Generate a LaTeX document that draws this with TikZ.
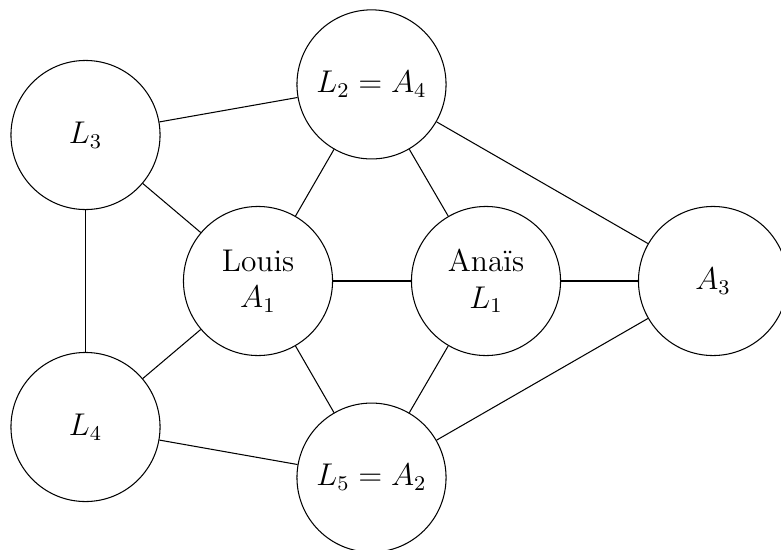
\documentclass[tikz,border=0pt]{standalone}
\begin{document}
\begin{tikzpicture}[x=0.3817pt,y=-0.3817pt,
  vtx/.style={draw,circle,minimum size=2cm,inner sep=0pt,font=\large,align=center,line width=0.4pt},
  edge/.style={draw,line width=0.4pt}]
\useasboundingbox (0,0) rectangle (781,549);
\clip (0,0) rectangle (781,549);
\node[vtx] (louis) at (258,281) {Louis\\$A_1$};
\node[vtx] (anais) at (486,281) {Anaïs\\$L_1$};
\node[vtx] (l2) at (371.5,84.4) {$L_2=A_4$};
\node[vtx] (l5) at (371.5,477.6) {$L_5=A_2$};
\node[vtx] (a3) at (713,281) {$A_3$};
\node[vtx] (l3) at (85.5,135) {$L_3$};
\node[vtx] (l4) at (85.5,427) {$L_4$};
\path[edge] (louis) -- (anais);
\path[edge] (louis) -- (l2);
\path[edge] (louis) -- (l3);
\path[edge] (louis) -- (l4);
\path[edge] (louis) -- (l5);
\path[edge] (anais) -- (l2);
\path[edge] (anais) -- (l5);
\path[edge] (anais) -- (a3);
\path[edge] (l2) -- (l3);
\path[edge] (l2) -- (a3);
\path[edge] (l5) -- (l4);
\path[edge] (l5) -- (a3);
\path[edge] (l3) -- (l4);
\end{tikzpicture}
\end{document}
